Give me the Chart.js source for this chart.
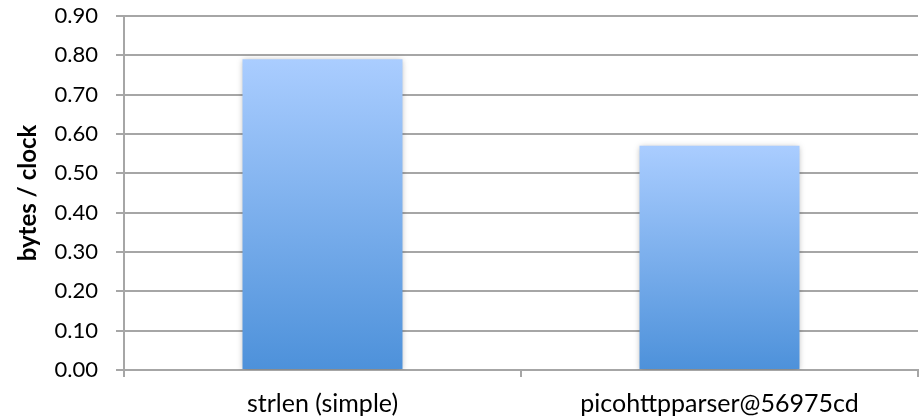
<!DOCTYPE html>
<html>
<head>
<meta charset="utf-8">
<script src="https://cdn.jsdelivr.net/npm/chart.js@4/dist/chart.umd.min.js"></script>
<style>
  html, body { margin: 0; padding: 0; background: #fff; }
  #wrap { width: 919px; height: 417px; }
</style>
</head>
<body>
<div id="wrap"><canvas id="c" width="919" height="417"></canvas></div>
<script>
// Throughput of each parser, in bytes per clock cycle
const categories = ['strlen (simple)', 'picohttpparser@56975cd'];
const bytesPerClock = [0.79, 0.57];
const yTitle = 'bytes / clock';

const FONT = 'Lato, "Open Sans", sans-serif';
const GRID = '#a6a6a6';

// Each bar fades from light blue at its top to a deeper blue at its base
function barGradient(context) {
  const chart = context.chart;
  const area = chart.chartArea;
  if (!area) return '#7fb0ee';
  const y = chart.scales.y;
  const top = y.getPixelForValue(context.raw);
  const base = y.getPixelForValue(0);
  const g = chart.ctx.createLinearGradient(0, top, 0, base);
  g.addColorStop(0, '#aacdff');
  g.addColorStop(1, '#4d91da');
  return g;
}

// Soft drop shadow around the bars
const barShadow = {
  id: 'barShadow',
  beforeDatasetsDraw(chart) {
    const ctx = chart.ctx;
    ctx.save();
    ctx.shadowColor = 'rgba(0,0,0,0.28)';
    ctx.shadowBlur = 6;
    ctx.shadowOffsetX = 0;
    ctx.shadowOffsetY = 1;
  },
  afterDatasetsDraw(chart) {
    chart.ctx.restore();
  }
};

new Chart(document.getElementById('c'), {
  type: 'bar',
  data: {
    labels: categories,
    datasets: [{
      data: bytesPerClock,
      backgroundColor: barGradient,
      borderWidth: 0,
      categoryPercentage: 1,
      barPercentage: 0.403
    }]
  },
  plugins: [barShadow],
  options: {
    responsive: false,
    animation: false,
    devicePixelRatio: 1,
    layout: { padding: { top: 16, right: 1, left: 0, bottom: 0 } },
    plugins: {
      legend: { display: false },
      tooltip: { enabled: false }
    },
    scales: {
      x: {
        offset: true,
        grid: {
          offset: true,
          drawOnChartArea: false,
          drawTicks: true,
          tickLength: 7,
          color: GRID,
          lineWidth: 2
        },
        border: { display: true, color: GRID, width: 2 },
        ticks: {
          color: '#000',
          padding: 12,
          maxRotation: 0,
          font: { family: FONT, size: 25 }
        },
        afterFit(scale) { scale.height = 47; }
      },
      y: {
        min: 0,
        max: 0.9,
        ticks: {
          stepSize: 0.1,
          color: '#000',
          padding: 18,
          font: { family: FONT, size: 22 },
          callback: (v) => Number(v).toFixed(2)
        },
        grid: {
          color: GRID,
          lineWidth: 2,
          drawTicks: true,
          tickLength: 8
        },
        border: { display: true, color: GRID, width: 2 },
        title: {
          display: true,
          text: yTitle,
          color: '#000',
          padding: { top: 14, bottom: 0 },
          font: { family: FONT, size: 24, weight: 'bold' }
        },
        afterFit(scale) {
          scale.width = 124;
          scale.paddingTop = 0;
          scale.paddingBottom = 0;
        }
      }
    }
  }
});
</script>
</body>
</html>
